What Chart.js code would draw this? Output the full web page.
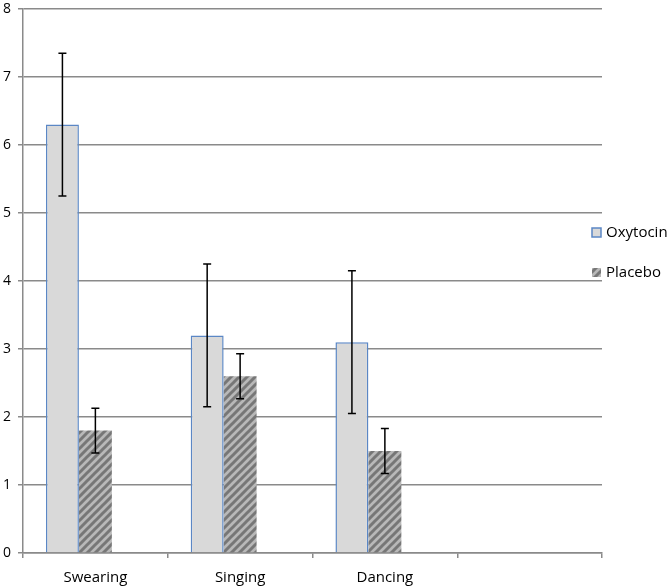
<!DOCTYPE html>
<html>
<head>
<meta charset="utf-8">
<script src="https://cdn.jsdelivr.net/npm/chart.js@4.4.1/dist/chart.umd.min.js"></script>
<style>
  html, body { margin: 0; padding: 0; background: #fff; }
  #wrap { width: 670px; height: 587px; position: relative; }
</style>
</head>
<body>
<div id="wrap"><canvas id="c" width="670" height="587"></canvas></div>
<script>
const categories = ['Swearing', 'Singing', 'Dancing', ''];
const oxytocin = [6.3, 3.2, 3.1, null];
const placebo = [1.8, 2.6, 1.5, null];
const oxytocinErr = [1.05, 1.05, 1.05, null];
const placeboErr = [0.33, 0.33, 0.33, null];
const seriesNames = ['Oxytocin', 'Placebo'];
const yTicks = [0, 1, 2, 3, 4, 5, 6, 7, 8];

function makeHatch() {
  const s = 8;
  const p = document.createElement('canvas');
  p.width = s; p.height = s;
  const g = p.getContext('2d');
  g.fillStyle = '#b8b8b8';
  g.fillRect(0, 0, s, s);
  g.strokeStyle = '#777777';
  g.lineWidth = 3;
  g.beginPath();
  g.moveTo(-2, s + 2); g.lineTo(s + 2, -2);
  g.moveTo(-2 - s, s + 2); g.lineTo(2, -2);
  g.moveTo(s - 2, s + 2); g.lineTo(2 * s + 2, -2);
  g.stroke();
  return g.createPattern(p, 'repeat');
}
const ctx0 = document.getElementById('c').getContext('2d');
const hatch = makeHatch();

const FONT = "'Open Sans', 'Liberation Sans', sans-serif";

const errorBars = {
  id: 'errorBars',
  afterDatasetsDraw(chart) {
    const ctx = chart.ctx;
    const y = chart.scales.y;
    const errs = [oxytocinErr, placeboErr];
    const vals = [oxytocin, placebo];
    ctx.save();
    ctx.strokeStyle = '#000';
    ctx.lineWidth = 1.5;
    for (let d = 0; d < 2; d++) {
      const meta = chart.getDatasetMeta(d);
      meta.data.forEach((bar, i) => {
        const v = vals[d][i], e = errs[d][i];
        if (v == null || e == null) return;
        const x = bar.x;
        const yt = y.getPixelForValue(v + e);
        const yb = y.getPixelForValue(v - e);
        ctx.beginPath();
        ctx.moveTo(x, yt); ctx.lineTo(x, yb);
        ctx.moveTo(x - 4, yt); ctx.lineTo(x + 4, yt);
        ctx.moveTo(x - 4, yb); ctx.lineTo(x + 4, yb);
        ctx.stroke();
      });
    }
    ctx.restore();
  }
};

const customLegend = {
  id: 'customLegend',
  afterDraw(chart) {
    const ctx = chart.ctx;
    const ca = chart.chartArea;
    const x0 = ca.right - 10;
    const ys = [233, 273];
    ctx.save();
    ctx.font = '15px ' + FONT;
    ctx.textBaseline = 'middle';
    ctx.textAlign = 'left';
    seriesNames.forEach((name, i) => {
      const ds = chart.data.datasets[i];
      const yy = ys[i];
      ctx.fillStyle = ds.backgroundColor;
      ctx.fillRect(x0, yy - 5, 9, 9);
      if (i === 0) {
        ctx.strokeStyle = ds.borderColor;
        ctx.lineWidth = 1.5;
        ctx.strokeRect(x0, yy - 5, 9, 9);
      }
      ctx.fillStyle = '#000';
      ctx.fillText(name, x0 + 14, yy);
    });
    ctx.restore();
  }
};

new Chart(ctx0, {
  type: 'bar',
  data: {
    labels: categories,
    datasets: [
      { label: seriesNames[0], data: oxytocin, backgroundColor: '#d9d9d9', borderColor: '#5b87c5', borderWidth: 1.5, borderSkipped: 'bottom' },
      { label: seriesNames[1], data: placebo, backgroundColor: hatch, borderWidth: 0 },
      { label: '', data: [null, null, null, null], backgroundColor: 'rgba(0,0,0,0)' }
    ]
  },
  options: {
    responsive: false,
    animation: false,
    events: [],
    layout: { padding: { top: 9, right: 68, left: 0, bottom: 0 } },
    datasets: { bar: { categoryPercentage: 0.683, barPercentage: 1.0 } },
    plugins: { legend: { display: false }, tooltip: { enabled: false } },
    scales: {
      x: {
        offset: true,
        grid: { display: true, drawOnChartArea: false, drawTicks: true, tickLength: 5, color: '#8a8a8a', lineWidth: 1.5, offset: true },
        border: { display: true, color: '#8a8a8a', width: 1.5 },
        ticks: { color: '#000', font: { family: FONT, size: 15 }, padding: 11 },
        afterFit(s) { s.height = 34; s.paddingLeft = 0; s.paddingRight = 0; }
      },
      y: {
        min: 0, max: 8,
        afterBuildTicks(s) { s.ticks = yTicks.map(v => ({ value: v })); },
        grid: { color: '#8a8a8a', lineWidth: 1.5, tickLength: 5 },
        border: { display: true, color: '#8a8a8a', width: 1.5 },
        ticks: { color: '#000', font: { family: FONT, size: 14 }, padding: 7 },
        afterFit(s) { s.width = 23; s.paddingTop = 0; s.paddingBottom = 0; }
      }
    }
  },
  plugins: [errorBars, customLegend]
});
</script>
</body>
</html>
